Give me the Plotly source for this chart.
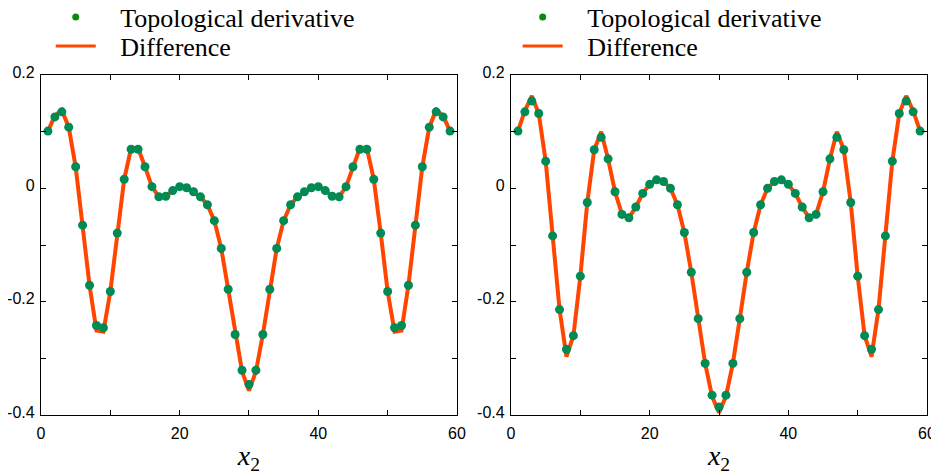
import plotly.graph_objects as go
from plotly.subplots import make_subplots

# x positions of samples
x_vals = list(range(1, 60))

# Left panel (half of symmetric profile, x=1..30)
left_td_half = [0.101, 0.126, 0.135, 0.108, 0.038, -0.065, -0.171, -0.242, -0.246, -0.182,
                -0.079, 0.016, 0.069, 0.069, 0.038, 0.003, -0.015, -0.014, -0.004, 0.003,
                0.001, -0.006, -0.015, -0.029, -0.057, -0.106, -0.178, -0.258, -0.321, -0.346]
left_diff_half = [0.101, 0.128, 0.138, 0.108, 0.038, -0.065, -0.171, -0.251, -0.253, -0.182,
                  -0.079, 0.016, 0.071, 0.071, 0.038, 0.003, -0.015, -0.014, -0.004, 0.003,
                  0.001, -0.006, -0.015, -0.029, -0.057, -0.106, -0.178, -0.258, -0.323, -0.357]
# Right panel
right_td_half = [0.101, 0.135, 0.154, 0.132, 0.048, -0.084, -0.214, -0.284, -0.260, -0.155,
                 -0.025, 0.068, 0.090, 0.052, -0.006, -0.046, -0.052, -0.033, -0.009, 0.007,
                 0.015, 0.012, 0.000, -0.029, -0.078, -0.148, -0.230, -0.309, -0.365, -0.386]
right_diff_half = [0.101, 0.137, 0.163, 0.132, 0.048, -0.084, -0.214, -0.297, -0.260, -0.155,
                   -0.025, 0.068, 0.100, 0.052, -0.006, -0.046, -0.052, -0.033, -0.009, 0.007,
                   0.015, 0.012, 0.000, -0.029, -0.078, -0.148, -0.230, -0.309, -0.367, -0.396]

def mirror(h):
    return h + h[-2::-1]

left_td = mirror(left_td_half)
left_diff = mirror(left_diff_half)
right_td = mirror(right_td_half)
right_diff = mirror(right_diff_half)

y_tickvals = [0.2, 0.1, 0, -0.1, -0.2, -0.3, -0.4]
y_ticktext = ["0.2", "", "0", "", "-0.2", "", "-0.4"]
x_tickvals = [0, 10, 20, 30, 40, 50, 60]
x_ticktext = ["0", "", "20", "", "40", "", "60"]

series_names = ["Topological derivative", "Difference"]

LINE_C = "#FF4500"
DOT_C = "#008B55"
LEG_DOT_C = "#0A8A0A"
PAD = "\u00a0\u00a0\u00a0"

fig = make_subplots(rows=1, cols=2, horizontal_spacing=0.0)

panels = [(1, left_td, left_diff, "legend", "legend2"),
          (2, right_td, right_diff, "legend3", "legend4")]
for col, td, diff, leg_a, leg_b in panels:
    fig.add_trace(go.Scatter(x=x_vals, y=diff, mode="lines", line=dict(color=LINE_C, width=4),
                             showlegend=False, hoverinfo="skip"), row=1, col=col)
    fig.add_trace(go.Scatter(x=x_vals, y=td, mode="markers", marker=dict(color=DOT_C, size=9),
                             showlegend=False), row=1, col=col)
    # legend entries
    fig.add_trace(go.Scatter(x=[None], y=[None], mode="markers", marker=dict(color=LEG_DOT_C, size=7),
                             name=PAD + series_names[0], legend=leg_a), row=1, col=col)
    fig.add_trace(go.Scatter(x=[None], y=[None], mode="lines", line=dict(color=LINE_C, width=3),
                             name=PAD + series_names[1], legend=leg_b), row=1, col=col)

axis_common = dict(showline=True, linecolor="black", linewidth=1.3, mirror="ticks",
                   ticks="inside", ticklen=5, tickcolor="black", tickwidth=1,
                   showgrid=False, zeroline=False, automargin=False,
                   tickfont=dict(family="Liberation Sans, Arial", size=16, color="black"))

for col in (1, 2):
    fig.update_xaxes(range=[0, 60], tickvals=x_tickvals, ticktext=x_ticktext,
                     ticklabelstandoff=4,
                     title=dict(text="<i>x</i><sub>2</sub>",
                                font=dict(family="Liberation Serif, Times New Roman", size=28, color="black"),
                                standoff=4),
                     **axis_common, row=1, col=col)
    fig.update_yaxes(range=[-0.4, 0.2], tickvals=y_tickvals, ticktext=y_ticktext,
                     ticklabelstandoff=2, ticklabelshift=-3,
                     **axis_common, row=1, col=col)

fig.update_layout(xaxis=dict(domain=[0, 0.4695]), xaxis2=dict(domain=[0.5305, 1.0]))

leg_common = dict(font=dict(family="Liberation Serif, Times New Roman", size=26, color="black"),
                  bgcolor="rgba(0,0,0,0)", xref="paper", yref="paper",
                  yanchor="middle", xanchor="left", orientation="v",
                  itemwidth=40, tracegroupgap=0)

# The page body has an 8px margin; the figure is sized so the plot areas land
# at the same pixel positions as the reference.
fig.update_layout(
    width=931, height=468,
    margin=dict(l=33, r=12, t=67, b=61, autoexpand=False),
    paper_bgcolor="white", plot_bgcolor="white",
    legend=dict(x=0.011, y=1.170, **leg_common),
    legend2=dict(x=0.011, y=1.0853, **leg_common),
    legend3=dict(x=0.538, y=1.170, **leg_common),
    legend4=dict(x=0.538, y=1.0853, **leg_common),
)

fig.write_html("out.html")
